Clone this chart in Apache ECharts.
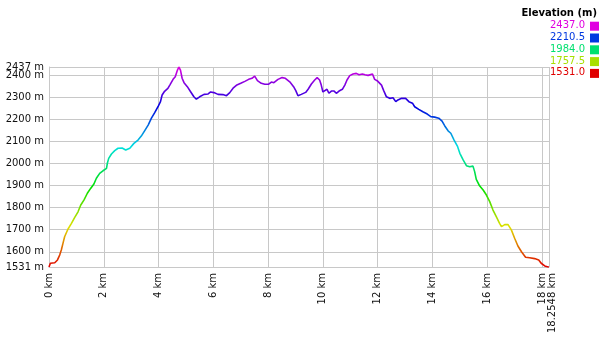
<!DOCTYPE html>
<html>
<head>
<meta charset="utf-8">
<script src="https://cdn.jsdelivr.net/npm/echarts@6/dist/echarts.min.js"></script>
<style>
html,body{margin:0;padding:0;background:#fff;}
#chart{width:601px;height:342px;}
</style>
</head>
<body>
<div id="chart"></div>
<script>
var distanceKm = [0, 0.05, 0.21, 0.31, 0.39, 0.45, 0.51, 0.57, 0.69, 0.82,
  0.94, 1.06, 1.16, 1.28, 1.40, 1.52, 1.64, 1.73, 1.85, 1.97,
  2.10, 2.13, 2.18, 2.28, 2.40, 2.52, 2.67, 2.80, 2.95, 3.10,
  3.25, 3.37, 3.49, 3.62, 3.74, 3.86, 3.98, 4.07, 4.13, 4.22,
  4.34, 4.41, 4.53, 4.61, 4.69, 4.74, 4.80, 4.86, 4.93, 5.05,
  5.17, 5.29, 5.38, 5.50, 5.66, 5.81, 5.90, 6.02, 6.17, 6.35,
  6.48, 6.60, 6.72, 6.84, 7.00, 7.15, 7.29, 7.41, 7.51, 7.61,
  7.75, 7.88, 8.02, 8.12, 8.21, 8.36, 8.51, 8.63, 8.79, 8.93,
  9.01, 9.09, 9.21, 9.37, 9.46, 9.58, 9.70, 9.79, 9.88, 9.94,
  10.00, 10.07, 10.15, 10.22, 10.31, 10.41, 10.49, 10.59, 10.71, 10.80,
  10.88, 10.98, 11.10, 11.22, 11.32, 11.44, 11.54, 11.65, 11.71, 11.81,
  11.89, 11.98, 12.05, 12.14, 12.22, 12.32, 12.44, 12.56, 12.66, 12.74,
  12.87, 13.02, 13.14, 13.27, 13.35, 13.50, 13.65, 13.81, 13.94, 14.08,
  14.23, 14.35, 14.45, 14.57, 14.67, 14.79, 14.91, 15.00, 15.12, 15.24,
  15.36, 15.48, 15.54, 15.60, 15.72, 15.85, 15.97, 16.09, 16.21, 16.33,
  16.45, 16.52, 16.64, 16.76, 16.88, 17.00, 17.12, 17.25, 17.40, 17.55,
  17.73, 17.88, 17.97, 18.10, 18.22, 18.2548];
var elevationM = [1531, 1548, 1550, 1563, 1585, 1608, 1638, 1668, 1702, 1729,
  1756, 1781, 1812, 1835, 1865, 1887, 1907, 1933, 1955, 1967,
  1978, 2001, 2023, 2043, 2058, 2069, 2070, 2061, 2069, 2091,
  2106, 2124, 2148, 2174, 2205, 2230, 2257, 2280, 2310, 2327,
  2340, 2355, 2381, 2393, 2423, 2437, 2423, 2386, 2366, 2348,
  2325, 2302, 2291, 2302, 2313, 2315, 2324, 2321, 2313, 2312,
  2307, 2321, 2341, 2354, 2363, 2372, 2381, 2386, 2396, 2375,
  2363, 2359, 2359, 2369, 2366, 2381, 2389, 2386, 2370, 2348,
  2330, 2307, 2313, 2322, 2336, 2360, 2378, 2389, 2378, 2355,
  2324, 2330, 2336, 2318, 2328, 2328, 2318, 2328, 2336, 2355,
  2378, 2398, 2405, 2408, 2402, 2405, 2402, 2399, 2405, 2405,
  2381, 2375, 2381, 2355, 2330, 2302, 2295, 2298, 2280, 2288,
  2295, 2295, 2280, 2273, 2257, 2245, 2234, 2224, 2212, 2210,
  2205, 2192, 2170, 2148, 2137, 2106, 2079, 2046, 2016, 1990,
  1985, 1988, 1963, 1928, 1899, 1880, 1857, 1827, 1789, 1759,
  1729, 1714, 1723, 1723, 1699, 1661, 1626, 1600, 1575, 1573,
  1569, 1563, 1548, 1536, 1531, 1531];
var xTicks = [0, 2, 4, 6, 8, 10, 12, 14, 16, 18, 18.2548];
var yTicks = [1531, 1600, 1700, 1800, 1900, 2000, 2100, 2200, 2300, 2400];
var yTopTick = [2437];
var legendTitle = 'Elevation (m)';
var legendValues = ['2437.0', '2210.5', '1984.0', '1757.5', '1531.0'];
var legendColors = ['#e000e0', '#0038e0', '#00e070', '#a8e000', '#e00000'];
var rampColors = ['#e00000', '#e0e000', '#00e000', '#00e0e0', '#0000e0', '#e000e0'];

var xMin = 0, xMax = xTicks[xTicks.length - 1];
var yMin = yTicks[0], yMax = yTopTick[0];
var FONT = 'DejaVu Sans';

var seriesData = distanceKm.map(function (d, i) { return [d, elevationM[i]]; });

var graphics = [{
  type: 'text', right: 4, top: 8,
  style: { text: legendTitle, font: 'bold 10px "' + FONT + '"', fill: '#000' }
}];
legendValues.forEach(function (v, i) {
  var cy = 26.2 + i * 11.8;
  graphics.push({
    type: 'text', right: 16, top: cy - 5.5,
    style: { text: v, font: '10px "' + FONT + '"', fill: legendColors[i] }
  });
  graphics.push({
    type: 'rect', shape: { x: 590, y: cy - 4.5, width: 9, height: 9 },
    style: { fill: legendColors[i] }
  });
});

function yLabel(v) { return v + ' m'; }

var chart = echarts.init(document.getElementById('chart'), null, { renderer: 'canvas' });
chart.setOption({
  animation: false,
  backgroundColor: '#fff',
  grid: { left: 49, right: 52, top: 67, bottom: 75, containLabel: false, outerBoundsMode: 'none' },
  xAxis: {
    type: 'value', min: xMin, max: xMax,
    axisLine: { show: true, lineStyle: { color: '#c8c8c8', width: 1 } },
    axisTick: { show: false, customValues: xTicks },
    splitLine: { show: true, lineStyle: { color: '#c8c8c8', width: 1 } },
    axisLabel: {
      customValues: xTicks, rotate: 90, margin: 6, color: '#111',
      fontFamily: FONT, fontSize: 10,
      showMinLabel: true, showMaxLabel: true, hideOverlap: false,
      formatter: function (v) {
        return v === xMax ? '{s|' + v + ' km}' : v + ' km';
      },
      rich: { s: { fontFamily: FONT, fontSize: 10, color: '#111', padding: [6, 0, 0, 0] } }
    }
  },
  yAxis: [{
    type: 'value', min: yMin, max: yMax, position: 'left',
    axisLine: { show: true, lineStyle: { color: '#c8c8c8', width: 1 } },
    axisTick: { show: false, customValues: yTicks },
    splitLine: { show: true, lineStyle: { color: '#c8c8c8', width: 1 } },
    axisLabel: {
      customValues: yTicks, margin: 5, color: '#111',
      fontFamily: FONT, fontSize: 10,
      showMinLabel: true, showMaxLabel: true, hideOverlap: false,
      formatter: yLabel
    }
  }, {
    type: 'value', min: yMin, max: yMax, position: 'left', offset: 0,
    axisLine: { show: false },
    axisTick: { show: false, customValues: yTopTick },
    splitLine: { show: true, lineStyle: { color: '#c8c8c8', width: 1 } },
    axisLabel: {
      customValues: yTopTick, margin: 5, color: '#111',
      fontFamily: FONT, fontSize: 10,
      showMinLabel: true, showMaxLabel: true,
      formatter: yLabel
    }
  }],
  visualMap: {
    type: 'continuous', show: false, dimension: 1, seriesIndex: 0,
    min: yMin, max: yMax,
    inRange: { color: rampColors }
  },
  series: [{
    type: 'line', data: seriesData, showSymbol: false,
    lineStyle: { width: 1.6 }
  }],
  graphic: graphics
});
</script>
</body>
</html>
